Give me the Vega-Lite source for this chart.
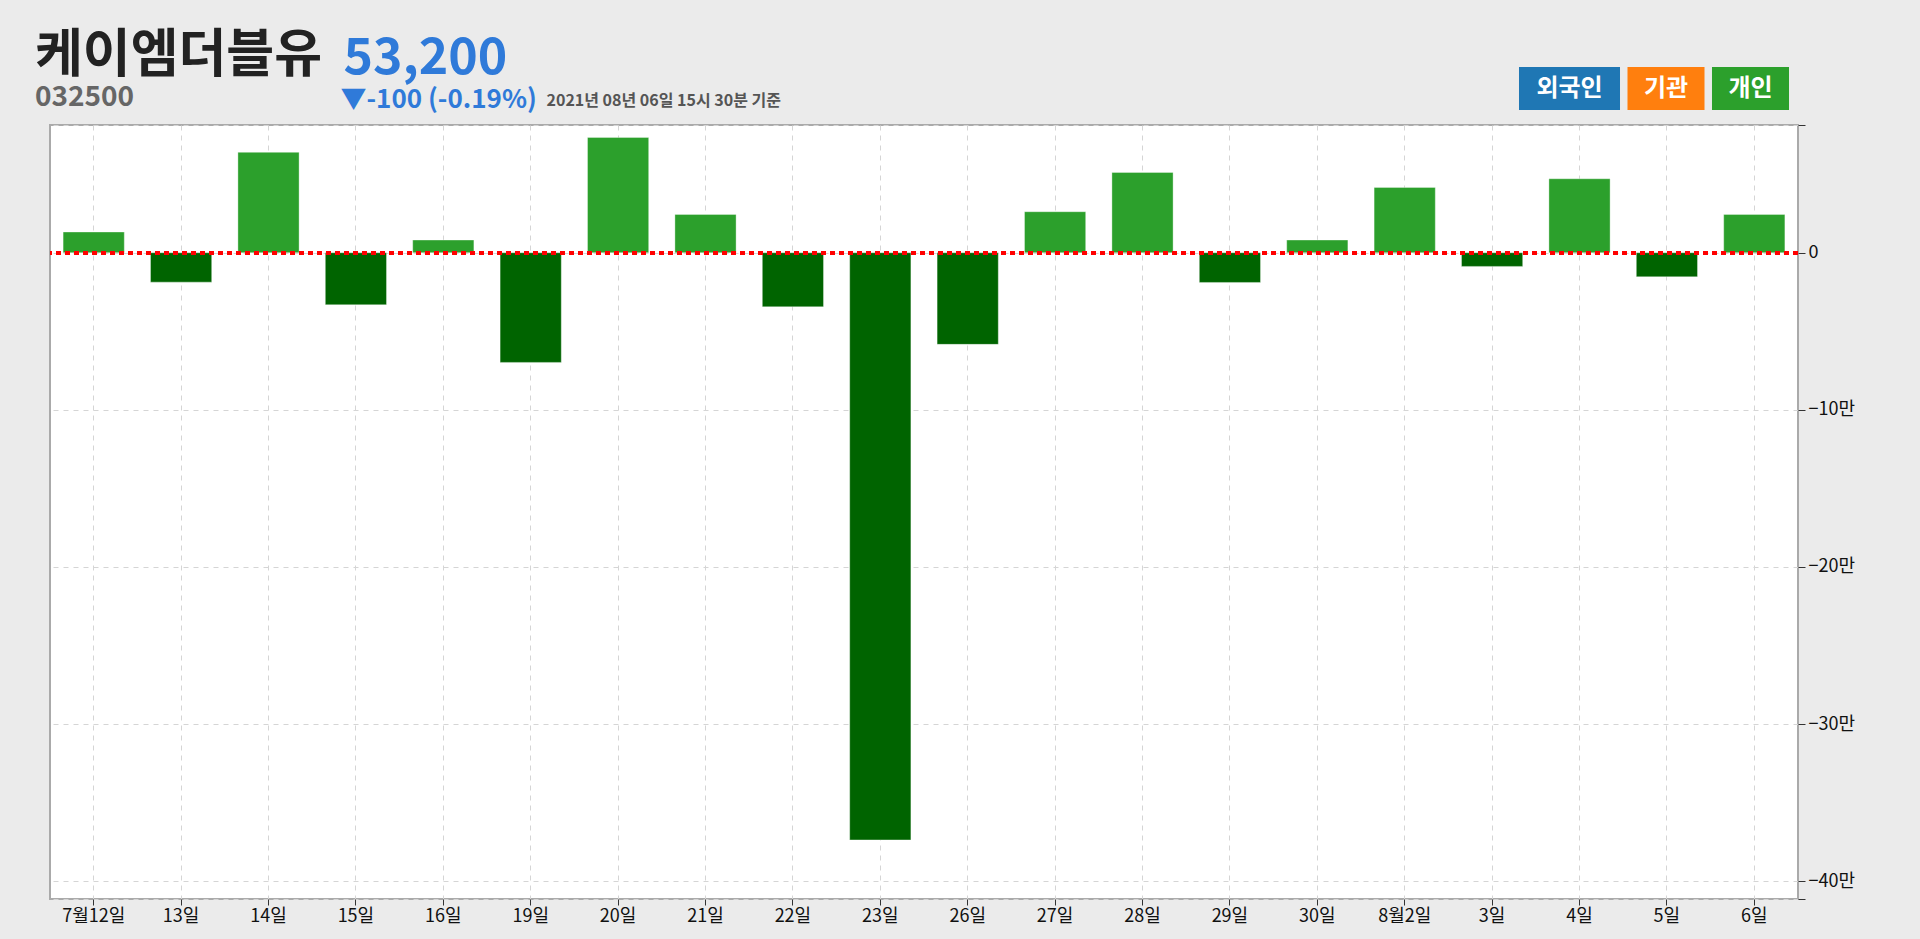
{
  "$schema": "https://vega.github.io/schema/vega-lite/v6.json",
  "width": 1748,
  "height": 774,
  "autosize": {"type": "none"},
  "padding": {"left": 50, "top": 125, "right": 122, "bottom": 40},
  "background": "#ebebeb",
  "config": {
    "view": {"fill": "white", "stroke": "#aaaaaa", "strokeWidth": 2},
    "font": "Noto Sans CJK KR"
  },
  "title": {
    "text": "케이엠더블유",
    "subtitle": "032500",
    "anchor": "start",
    "frame": "group",
    "orient": "top",
    "font": "Noto Sans CJK KR",
    "fontSize": 52,
    "fontWeight": "bold",
    "color": "#222222",
    "subtitleFont": "Noto Sans CJK KR",
    "subtitleFontSize": 28,
    "subtitleFontWeight": "bold",
    "subtitleColor": "#666666",
    "subtitlePadding": 1,
    "offset": 12,
    "dx": -15,
    "dy": 92
  },
  "data": {
    "values": [
      {"date": "7월12일", "value": 13200, "investor": "개인"},
      {"date": "13일", "value": -18700, "investor": "개인"},
      {"date": "14일", "value": 63900, "investor": "개인"},
      {"date": "15일", "value": -33100, "investor": "개인"},
      {"date": "16일", "value": 8100, "investor": "개인"},
      {"date": "19일", "value": -69800, "investor": "개인"},
      {"date": "20일", "value": 73400, "investor": "개인"},
      {"date": "21일", "value": 24400, "investor": "개인"},
      {"date": "22일", "value": -34400, "investor": "개인"},
      {"date": "23일", "value": -373700, "investor": "개인"},
      {"date": "26일", "value": -58300, "investor": "개인"},
      {"date": "27일", "value": 26100, "investor": "개인"},
      {"date": "28일", "value": 51100, "investor": "개인"},
      {"date": "29일", "value": -18900, "investor": "개인"},
      {"date": "30일", "value": 8100, "investor": "개인"},
      {"date": "8월2일", "value": 41600, "investor": "개인"},
      {"date": "3일", "value": -8700, "investor": "개인"},
      {"date": "4일", "value": 47100, "investor": "개인"},
      {"date": "5일", "value": -15300, "investor": "개인"},
      {"date": "6일", "value": 24400, "investor": "개인"}
    ]
  },
  "layer": [
    {
      "mark": {"type": "bar", "stroke": "white", "strokeOpacity": 0.35, "strokeWidth": 1},
      "encoding": {
        "x": {
          "field": "date",
          "type": "nominal",
          "sort": null,
          "scale": {"type": "band", "paddingInner": 0.3, "paddingOuter": 0.15},
          "axis": {
            "orient": "bottom",
            "title": "2021년 08년 06일 15시 30분 기준",
            "titleX": 496,
            "titleY": -794,
            "titleAlign": "left",
            "titleAnchor": "start",
            "titleBaseline": "alphabetic",
            "titleFont": "Noto Sans CJK KR",
            "titleFontSize": 16,
            "titleFontWeight": "bold",
            "titleColor": "#555555",
            "labelAngle": 0,
            "labelFont": "Noto Sans CJK KR",
            "labelFontSize": 18,
            "labelColor": "#111111",
            "labelPadding": 2,
            "tickSize": 6,
            "tickColor": "#333333",
            "domain": false,
            "grid": true,
            "gridDash": [5, 5],
            "gridColor": "#d5d5d5"
          }
        },
        "y": {
          "field": "value",
          "type": "quantitative",
          "scale": {"domain": [-411300, 81300], "nice": false, "zero": false},
          "axis": {
            "orient": "right",
            "values": [81300, 0, -100000, -200000, -300000, -400000, -411300],
            "labelExpr": "datum.value == 0 ? '0' : (datum.value % 100000 != 0 ? '' : format(datum.value / 10000, 'd') + '만')",
            "title": "▼-100 (-0.19%)",
            "titleAngle": 0,
            "titleX": -1458,
            "titleY": -18,
            "titleAlign": "left",
            "titleAnchor": "start",
            "titleBaseline": "alphabetic",
            "titleFont": "Noto Sans CJK KR",
            "titleFontSize": 26,
            "titleFontWeight": "bold",
            "titleColor": "#2f7ad9",
            "labelFont": "Noto Sans CJK KR",
            "labelFontSize": 18,
            "labelColor": "#111111",
            "labelPadding": 3,
            "tickSize": 7,
            "tickColor": "#333333",
            "domain": false,
            "grid": true,
            "gridDash": [5, 5],
            "gridColor": "#d5d5d5"
          }
        },
        "color": {"condition": {"test": "datum.value < 0", "value": "#006400"}, "value": "#2ca02c"}
      }
    },
    {
      "mark": {"type": "rule", "color": "#ff0000", "strokeDash": [5, 4], "strokeWidth": 3},
      "encoding": {"y": {"datum": 0}}
    },
    {
      "mark": {"type": "point", "filled": true, "opacity": 0},
      "encoding": {
        "x": {
          "field": "date",
          "type": "nominal",
          "sort": null,
          "axis": {
            "orient": "top",
            "labels": false,
            "ticks": false,
            "domain": false,
            "grid": false,
            "title": "53,200",
            "titleX": 293,
            "titleY": -52,
            "titleAlign": "left",
            "titleAnchor": "start",
            "titleBaseline": "alphabetic",
            "titleFont": "Noto Sans CJK KR",
            "titleFontSize": 50,
            "titleFontWeight": "bold",
            "titleColor": "#2f7ad9"
          }
        },
        "fill": {
          "field": "investor",
          "type": "nominal",
          "scale": {"domain": ["외국인", "기관", "개인"], "range": ["#1f77b4", "#ff7f0e", "#2ca02c"]},
          "legend": {
            "title": null,
            "orient": "none",
            "legendX": 1498,
            "legendY": -58,
            "direction": "horizontal",
            "padding": 0,
            "symbolSize": 1849,
            "symbolStrokeWidth": 0,
            "symbolOpacity": 1,
            "columnPadding": 5.5,
            "labelAlign": "center",
            "labelBaseline": "middle",
            "labelOffset": -21.5,
            "labelColor": "white",
            "labelFont": "Noto Sans CJK KR",
            "labelFontSize": 24,
            "labelFontWeight": "bold",
            "encode": {"symbols": {"update": {"opacity": {"value": 1}, "fillOpacity": {"value": 1}}}}
          }
        },
        "shape": {
          "field": "investor",
          "type": "nominal",
          "scale": {
            "domain": ["외국인", "기관", "개인"],
            "range": ["M-2.349,-1H2.349V1H-2.349Z", "M-1.791,-1H1.791V1H-1.791Z", "M-1.791,-1H1.791V1H-1.791Z"]
          }
        }
      }
    }
  ],
  "resolve": {"axis": {"x": "independent"}}
}
